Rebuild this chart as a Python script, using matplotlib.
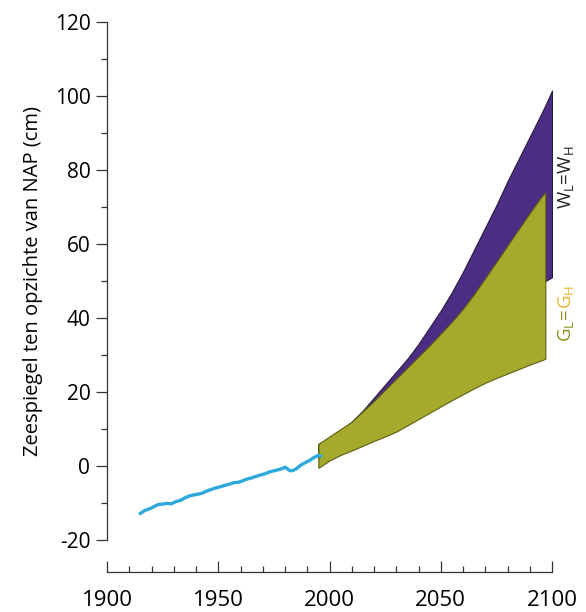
import matplotlib.pyplot as plt
from matplotlib.ticker import MultipleLocator

plt.rcParams['font.family'] = ['Open Sans', 'DejaVu Sans']
plt.rcParams['axes.unicode_minus'] = False
plt.rcParams['mathtext.fontset'] = 'custom'
plt.rcParams['mathtext.rm'] = 'Open Sans'
plt.rcParams['mathtext.default'] = 'regular'

# gemeten zeespiegel (blauwe lijn)
obs_years = [1915, 1917, 1919, 1921, 1923, 1925, 1927, 1929, 1931, 1933, 1935, 1937,
             1939, 1941, 1943, 1945, 1947, 1949, 1951, 1953, 1955, 1957, 1959, 1961,
             1963, 1965, 1967, 1969, 1971, 1973, 1975, 1977, 1979, 1980, 1981, 1982,
             1983, 1985, 1987, 1989, 1991, 1993, 1995, 1996]
obs_level = [-12.8, -12.0, -11.6, -11.0, -10.4, -10.3, -10.1, -10.2, -9.6, -9.3, -8.6, -8.1,
             -7.8, -7.6, -7.3, -6.7, -6.3, -5.9, -5.6, -5.2, -4.9, -4.5, -4.4, -4.0,
             -3.5, -3.2, -2.8, -2.4, -2.1, -1.6, -1.3, -1.0, -0.6, -0.3, -0.7, -1.2,
             -1.3, -0.8, 0.2, 0.9, 1.5, 2.3, 2.9, 2.7]

# scenario W (paars)
w_years = [1995, 2000, 2005, 2010, 2015, 2020, 2025, 2030, 2035, 2040, 2045, 2050,
           2055, 2060, 2065, 2070, 2075, 2080, 2085, 2090, 2095, 2097, 2100]
w_high = [6.0, 7.5, 9.5, 12.0, 15.0, 18.5, 22.0, 25.5, 29.0, 33.0, 37.5, 42.0,
          47.0, 52.5, 58.5, 64.5, 70.5, 77.0, 83.0, 89.0, 95.0, 97.5, 101.5]
w_low = [2.0, 4.0, 6.0, 8.0, 10.5, 13.0, 15.5, 18.0, 21.0, 24.0, 27.0, 30.0,
         32.5, 35.0, 37.5, 40.0, 42.0, 44.0, 46.0, 48.0, 49.5, 50.0, 51.0]

# scenario G (olijfgroen)
g_years = [1995, 2000, 2005, 2010, 2015, 2020, 2025, 2030, 2035, 2040, 2045, 2050,
           2055, 2060, 2065, 2070, 2075, 2080, 2085, 2090, 2095, 2097]
g_high = [6.0, 8.0, 10.0, 12.0, 14.8, 17.6, 20.6, 23.6, 26.6, 29.6, 32.6, 35.8,
          39.0, 42.5, 46.5, 50.8, 55.2, 59.6, 64.0, 68.4, 72.6, 74.0]
g_low = [-0.5, 1.5, 3.0, 4.2, 5.5, 6.8, 8.0, 9.3, 11.0, 12.7, 14.4, 16.1,
         17.8, 19.4, 21.0, 22.5, 23.8, 25.0, 26.2, 27.4, 28.5, 29.0]

fig = plt.figure(figsize=(5.86, 6.12), dpi=100)
ax = fig.add_axes([0.1826, 0.1176, 0.7594, 0.8464])

ax.fill_between(w_years, w_low, w_high, facecolor='#4b2e83', edgecolor='#2a1a40',
                linewidth=0.8, zorder=2)
ax.fill_between(g_years, g_low, g_high, facecolor='#a5a92c', edgecolor='#5c5f12',
                linewidth=0.8, zorder=3)
ax.plot(obs_years, obs_level, color='#2ea9dc', linewidth=2.4, zorder=4)

ax.set_xlim(1900, 2100)
ax.set_ylim(-20, 120)
ax.xaxis.set_major_locator(MultipleLocator(50))
ax.xaxis.set_minor_locator(MultipleLocator(10))
ax.yaxis.set_major_locator(MultipleLocator(20))
ax.yaxis.set_minor_locator(MultipleLocator(10))

for s in ['top', 'right']:
    ax.spines[s].set_visible(False)
for s in ['left', 'bottom']:
    ax.spines[s].set_color('#333333')
    ax.spines[s].set_linewidth(0.9)
ax.spines['bottom'].set_position(('outward', 23))

ax.tick_params(axis='y', which='major', direction='out', length=8, width=0.9,
               color='#333333', labelsize=15, pad=4)
ax.tick_params(axis='y', which='minor', direction='out', length=4.5, width=0.9,
               color='#333333')
ax.tick_params(axis='x', which='major', direction='in', length=8, width=0.9,
               color='#333333', labelsize=16, pad=13)
ax.tick_params(axis='x', which='minor', direction='in', length=4.5, width=0.9,
               color='#333333')

ax.set_ylabel('Zeespiegel ten opzichte van NAP (cm)', fontsize=14.5, labelpad=8)

ax.text(2106.5, 78, 'W$_L$=W$_H$', rotation=90, fontsize=13.5, color='#222222',
        ha='center', va='center', clip_on=False)
ax.text(2106.5, 42.5, 'G$_L$=', rotation=90, rotation_mode='anchor', fontsize=13.5,
        color='#8c8f1c', ha='right', va='center', clip_on=False)
ax.text(2106.5, 42.5, 'G$_H$', rotation=90, rotation_mode='anchor', fontsize=13.5,
        color='#e8b830', ha='left', va='center', clip_on=False)

fig.savefig('out.png', dpi=100)
